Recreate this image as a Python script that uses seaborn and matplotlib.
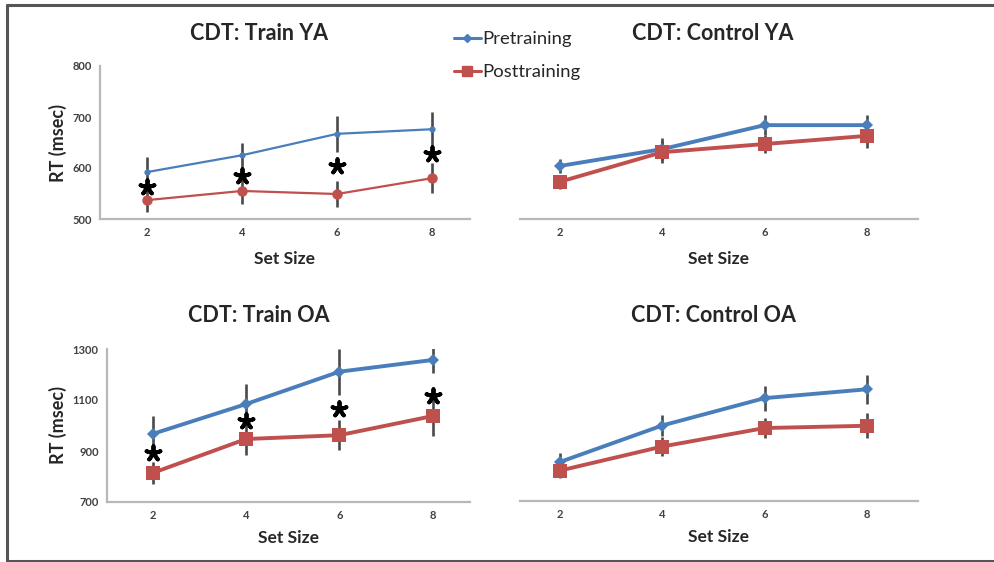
import matplotlib
matplotlib.use("Agg")
import matplotlib.pyplot as plt
import numpy as np
import pandas as pd
import seaborn as sns
from matplotlib.lines import Line2D

# ---- data ------------------------------------------------------------------
SET_SIZES = ["2", "4", "6", "8"]

TRAIN_YA_PRE = [592, 625, 667, 676]
TRAIN_YA_PRE_ERR = [30, 25, 35, 34]
TRAIN_YA_POST = [537, 555, 549, 580]
TRAIN_YA_POST_ERR = [23, 26, 25, 29]

CTRL_YA_PRE = [604, 637, 684, 684]
CTRL_YA_PRE_ERR = [14, 22, 20, 20]
CTRL_YA_POST = [573, 631, 647, 663]
CTRL_YA_POST_ERR = [14, 21, 18, 24]

TRAIN_OA_PRE = [967, 1084, 1211, 1257]
TRAIN_OA_PRE_ERR = [70, 79, 90, 50]
TRAIN_OA_POST = [814, 947, 962, 1037]
TRAIN_OA_POST_ERR = [43, 62, 58, 78]

CTRL_OA_PRE = [854, 998, 1106, 1141]
CTRL_OA_PRE_ERR = [35, 43, 49, 57]
CTRL_OA_POST = [820, 915, 988, 997]
CTRL_OA_POST_ERR = [30, 38, 41, 50]

STARS_YA = [563, 585, 604, 627]
STARS_OA = [892, 1018, 1065, 1116]

BLUE = "#4a7ebb"
RED = "#c0504d"
FONT = ["Lato", "DejaVu Sans"]

sns.set_style("white")
plt.rcParams["font.family"] = FONT

W, H = 995, 562
fig = plt.figure(figsize=(W / 100, H / 100), dpi=100)


def px_axes(left, right, top, bottom):
    return fig.add_axes([left / W, 1 - bottom / H, (right - left) / W, (bottom - top) / H])


def panel(ax, pre, pre_err, post, post_err, ylim, yticks, xlim, thin=False,
          show_y=True, stars=None, xpad=9):
    df = pd.DataFrame({
        "size": SET_SIZES * 2,
        "rt": pre + post,
        "session": ["Pretraining"] * 4 + ["Posttraining"] * 4,
    })
    idx = np.arange(len(SET_SIZES))
    for vals, err in ((pre, pre_err), (post, post_err)):
        ax.errorbar(idx, vals, yerr=err, fmt="none", ecolor="#4a4a4a",
                    elinewidth=1.9, capsize=0, zorder=2)
    if thin:
        markers = {"Pretraining": "o", "Posttraining": "o"}
        sizes = (4.5, 7.5)
    else:
        markers = {"Pretraining": "D", "Posttraining": "s"}
        sizes = (6, 10)
    sns.lineplot(data=df, x="size", y="rt", hue="session", style="session",
                 palette={"Pretraining": BLUE, "Posttraining": RED},
                 markers=markers, dashes=False,
                 linewidth=1.6 if thin else 2.8, legend=False, ax=ax,
                 markeredgewidth=0, zorder=3)
    for line, ms in zip(ax.lines[-2:], sizes):
        line.set_markersize(ms)
    if stars is not None:
        ax.scatter(idx, stars, marker=(5, 2, 0), s=110, color="black",
                   linewidths=2.8, zorder=4)
    ax.set_xlim(*xlim)
    ax.set_ylim(*ylim)
    ax.set_yticks(yticks)
    ax.set_xlabel("Set Size", fontsize=12.5, fontweight="bold", labelpad=xpad)
    ax.set_ylabel("RT (msec)" if show_y else "", fontsize=13,
                  fontweight="bold", labelpad=4)
    ax.tick_params(length=0, labelsize=8, labelcolor="#404040", pad=6)
    for lab in ax.get_xticklabels() + ax.get_yticklabels():
        lab.set_fontweight("bold")
    sns.despine(ax=ax, left=not show_y)
    for s in ("left", "bottom"):
        ax.spines[s].set_color("#b8b8b8")
        ax.spines[s].set_linewidth(1.6)
    if not show_y:
        ax.set_yticklabels([])


ax1 = px_axes(100, 470, 66, 219)
panel(ax1, TRAIN_YA_PRE, TRAIN_YA_PRE_ERR, TRAIN_YA_POST, TRAIN_YA_POST_ERR,
      (500, 800), [500, 600, 700, 800], (-0.495, 3.4), thin=True,
      stars=STARS_YA)

ax2 = px_axes(520, 918, 66, 219)
panel(ax2, CTRL_YA_PRE, CTRL_YA_PRE_ERR, CTRL_YA_POST, CTRL_YA_POST_ERR,
      (500, 800), [500, 600, 700, 800], (-0.39, 3.5), show_y=False)

ax3 = px_axes(107, 470, 349, 502)
panel(ax3, TRAIN_OA_PRE, TRAIN_OA_PRE_ERR, TRAIN_OA_POST, TRAIN_OA_POST_ERR,
      (700, 1300), [700, 900, 1100, 1300], (-0.49, 3.4), stars=STARS_OA,
      xpad=6)

ax4 = px_axes(520, 918, 349, 501)
panel(ax4, CTRL_OA_PRE, CTRL_OA_PRE_ERR, CTRL_OA_POST, CTRL_OA_POST_ERR,
      (700, 1300), [700, 900, 1100, 1300], (-0.39, 3.5), show_y=False,
      xpad=6)

# titles
for x, y, t in [(259, 33, "CDT: Train YA"), (713, 33, "CDT: Control YA"),
                (259, 315, "CDT: Train OA"), (713, 315, "CDT: Control OA")]:
    fig.text(x / W, 1 - y / H, t, ha="center", va="center", fontsize=15.5,
             fontweight="bold")

# legend
handles = [
    Line2D([], [], color=BLUE, marker="D", markersize=4, linewidth=2.2),
    Line2D([], [], color=RED, marker="s", markersize=7, linewidth=2.2),
]
fig.legend(handles, ["Pretraining", "Posttraining"], loc="upper left",
           bbox_to_anchor=(454 / W, 1 - 31 / H), frameon=False, fontsize=13.3,
           labelspacing=0.92, handlelength=1.45, handletextpad=0.1,
           borderaxespad=0, borderpad=0)

# outer frame
frame_kw = dict(color="#555555", linewidth=2.2, transform=fig.transFigure)
fig.add_artist(Line2D([7 / W, 7 / W], [1 - 5 / H, 1 - 561 / H], **frame_kw))
fig.add_artist(Line2D([7 / W, 1], [1 - 5 / H, 1 - 5 / H], **frame_kw))
fig.add_artist(Line2D([7 / W, 1], [1 - 561 / H, 1 - 561 / H], **frame_kw))

fig.savefig("out.png", dpi=100)
